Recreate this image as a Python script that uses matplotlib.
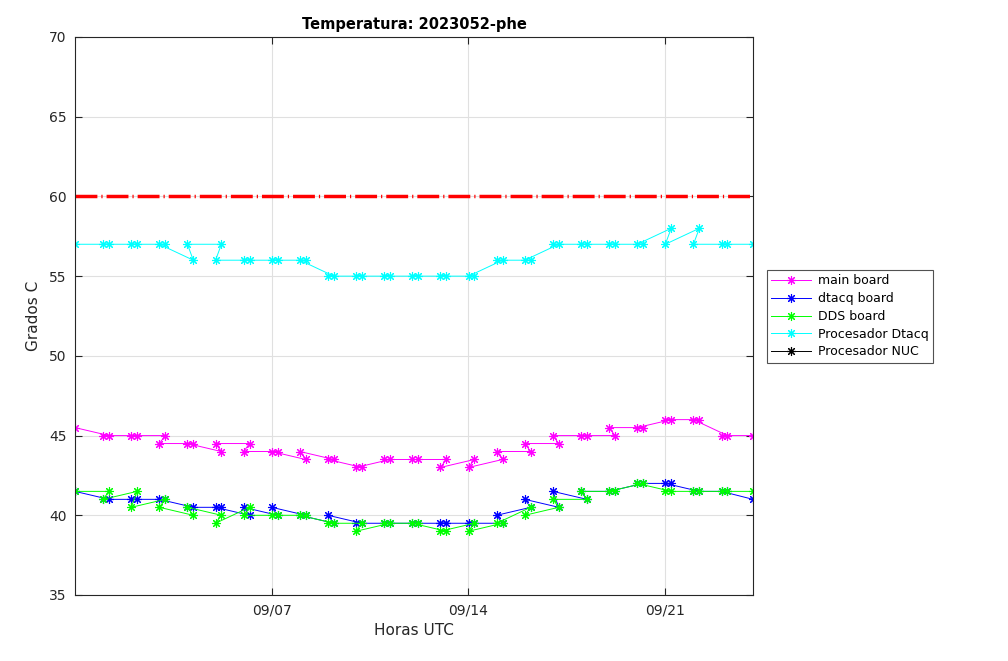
# Temperaturas de las placas del equipo 2023052-phe
# Salida: out.png
########################################################################################
import matplotlib
matplotlib.use("Agg")
import matplotlib.pyplot as plt
import matplotlib.dates as mdates
import numpy as np
import pandas as pd
########################################################################################

# Horas de las muestras (en el orden en que vienen en los archivos)
fechas = [
    "2023-08-31 00:10",
    "2023-09-01 05:10", "2023-09-01 00:10",
    "2023-09-02 05:10", "2023-09-02 00:10",
    "2023-09-03 05:10", "2023-09-03 00:10",
    "2023-09-04 05:10", "2023-09-04 00:10",
    "2023-09-05 05:10", "2023-09-05 00:10",
    "2023-09-06 05:10", "2023-09-06 00:10",
    "2023-09-07 05:10", "2023-09-07 00:10",
    "2023-09-08 05:10", "2023-09-08 00:10",
    "2023-09-09 05:10", "2023-09-09 00:10",
    "2023-09-10 05:10", "2023-09-10 00:10",
    "2023-09-11 05:10", "2023-09-11 00:10",
    "2023-09-12 05:10", "2023-09-12 00:10",
    "2023-09-13 05:10", "2023-09-13 00:10",
    "2023-09-14 05:10", "2023-09-14 00:10",
    "2023-09-15 05:10", "2023-09-15 00:10",
    "2023-09-16 05:10", "2023-09-16 00:10",
    "2023-09-17 05:10", "2023-09-17 00:10",
    "2023-09-18 05:10", "2023-09-18 00:10",
    "2023-09-19 05:10", "2023-09-19 00:10",
    "2023-09-20 05:10", "2023-09-20 00:10",
    "2023-09-21 05:10", "2023-09-21 00:10",
    "2023-09-22 05:10", "2023-09-22 00:10",
    "2023-09-23 05:10", "2023-09-23 00:10",
    "2023-09-24 03:00",
]

main_board = [45.5,
              45, 45, 45, 45, 45, 44.5, 44.5, 44.5, 44, 44.5, 44.5, 44,
              44, 44, 43.5, 44, 43.5, 43.5, 43, 43, 43.5, 43.5, 43.5, 43.5,
              43.5, 43, 43.5, 43, 43.5, 44, 44, 44.5, 44.5, 45, 45, 45,
              45, 45.5, 45.5, 45.5, 46, 46, 46, 46, 45, 45,
              45]
dtacq_board = [41.5,
               41, 41, 41, 41, 41, 41, 40.5, 40.5, 40.5, 40.5, 40, 40.5,
               40, 40.5, 40, 40, 39.5, 40, 39.5, 39.5, 39.5, 39.5, 39.5, 39.5,
               39.5, 39.5, 39.5, 39.5, 39.5, 40, 40.5, 41, 40.5, 41.5, 41, 41.5,
               41.5, 41.5, 42, 42, 42, 42, 41.5, 41.5, 41.5, 41.5,
               41]
dds_board = [41.5,
             41.5, 41, 41.5, 40.5, 41, 40.5, 40, 40.5, 40, 39.5, 40.5, 40,
             40, 40, 40, 40, 39.5, 39.5, 39.5, 39, 39.5, 39.5, 39.5, 39.5,
             39, 39, 39.5, 39, 39.5, 39.5, 40.5, 40, 40.5, 41, 41, 41.5,
             41.5, 41.5, 42, 42, 41.5, 41.5, 41.5, 41.5, 41.5, 41.5,
             41.5]
proc_dtacq = [57,
              57, 57, 57, 57, 57, 57, 56, 57, 57, 56, 56, 56,
              56, 56, 56, 56, 55, 55, 55, 55, 55, 55, 55, 55,
              55, 55, 55, 55, 56, 56, 56, 56, 57, 57, 57, 57,
              57, 57, 57, 57, 58, 57, 58, 57, 57, 57,
              57]
proc_nuc = []   # sin datos en este periodo

umbral = 60
nombres = ["main board", "dtacq board", "DDS board", "Procesador Dtacq", "Procesador NUC"]

########################################################################################

t = pd.to_datetime(fechas)
eje_gris = "#262626"

fig = plt.figure(figsize=(10.08, 6.61), dpi=100)
ax = fig.add_axes([75 / 1008, 1 - 595 / 661, (753 - 75) / 1008, (595 - 37) / 661])

estilo = dict(marker=(8, 2, 0), markersize=6.5, linewidth=0.7, markeredgewidth=0.8)
ax.plot(t, main_board, color="#ff00ff", label=nombres[0], **estilo)
ax.plot(t, dtacq_board, color="#0000ff", label=nombres[1], **estilo)
ax.plot(t, dds_board, color="#00ff00", label=nombres[2], **estilo)
ax.plot(t, proc_dtacq, color="#00ffff", label=nombres[3], **estilo)
ax.plot(t[:len(proc_nuc)], proc_nuc, color="black", label=nombres[4], **estilo)

# limite de temperatura
ax.axhline(umbral, color="#ff0000", linewidth=2.5,
           linestyle=(0, (6.3, 1.15, 0.35, 1.15)), zorder=1)

ax.set_xlim(t.min(), t.max())
ax.set_ylim(35, 70)
ax.set_yticks(np.arange(35, 71, 5))
ax.set_xticks(pd.to_datetime(["2023-09-07", "2023-09-14", "2023-09-21"]))
ax.xaxis.set_major_formatter(mdates.DateFormatter("%m/%d"))

ax.grid(True, color="#e0e0e0", linewidth=0.8)
ax.set_axisbelow(True)
ax.tick_params(direction="in", top=True, right=True, length=5, width=0.8,
               colors=eje_gris, labelsize=10, pad=6)
for s in ax.spines.values():
    s.set_color(eje_gris)
    s.set_linewidth(0.8)

ax.set_title("Temperatura: 2023052-phe", fontsize=10.5, fontweight="bold", pad=6)
ax.set_xlabel("Horas UTC", fontsize=11, color=eje_gris, labelpad=4)
ax.set_ylabel("Grados C", fontsize=11, color=eje_gris, labelpad=6)

leg = fig.legend(loc="upper left", bbox_to_anchor=(767 / 1008, 1 - 270 / 661),
                 fontsize=9, frameon=True, fancybox=False, handlelength=3.2,
                 handletextpad=0.55, labelspacing=0.38, borderpad=0.35,
                 borderaxespad=0)
leg.get_frame().set_edgecolor(eje_gris)
leg.get_frame().set_linewidth(0.8)

fig.savefig("out.png", dpi=100)
